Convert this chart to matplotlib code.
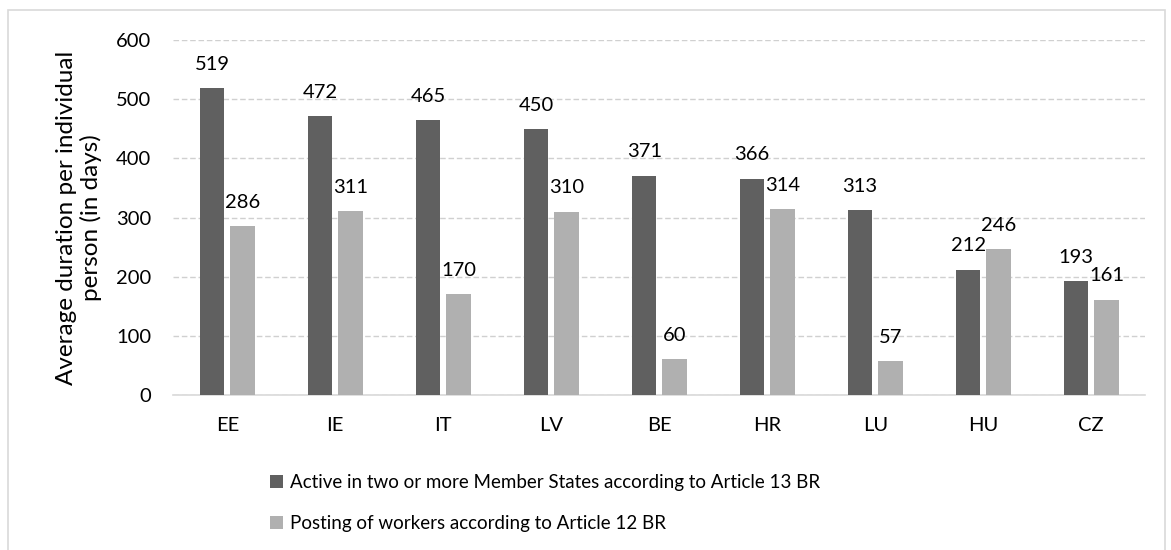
import numpy as np
import matplotlib.pyplot as plt
from matplotlib.patches import Rectangle

plt.rcParams['font.family'] = ['Lato', 'DejaVu Sans']

countries = ["EE", "IE", "IT", "LV", "BE", "HR", "LU", "HU", "CZ"]
article13 = [519, 472, 465, 450, 371, 366, 313, 212, 193]
article12 = [286, 311, 170, 310, 60, 314, 57, 246, 161]
labels = ["Active in two or more Member States according to Article 13 BR",
          "Posting of workers according to Article 12 BR"]
colors = ["#606060", "#b0b0b0"]

fig = plt.figure(figsize=(11.71, 5.5), dpi=100)
ax = fig.add_axes([0.148, 0.282, 0.83, 0.645])

x = np.arange(len(countries))
w = 0.225
for vals, off, col, lab in zip([article13, article12], [-0.14, 0.14], colors, labels):
    bars = ax.bar(x + off, vals, w, color=col, label=lab, zorder=3)
    for b, v in zip(bars, vals):
        ax.annotate(str(v), (b.get_x() + b.get_width() / 2, v), xytext=(0, 11),
                    textcoords='offset points', ha='center', va='bottom',
                    fontsize=14.5, color='#000000')

ax.set_xlim(-0.5, len(countries) - 0.5)
ax.set_ylim(0, 600)
ax.set_yticks(range(0, 601, 100))
ax.set_xticks(x)
ax.set_xticklabels(countries)
ax.tick_params(axis='both', length=0, labelsize=14.5, colors='#000000')
ax.tick_params(axis='x', pad=16)
ax.tick_params(axis='y', pad=16)
ax.grid(axis='y', color='#d0d0d0', linestyle=(0, (4, 2)), linewidth=1, zorder=0)
for s in ['left', 'right', 'top']:
    ax.spines[s].set_visible(False)
ax.spines['bottom'].set_color('#d9d9d9')
ax.spines['bottom'].set_linewidth(1.2)
ax.set_ylabel("Average duration per individual\nperson (in days)", fontsize=17.5,
              labelpad=10, linespacing=1.15)

fig.legend(loc='upper left', bbox_to_anchor=(0.224, 0.152), ncol=1, frameon=False,
           fontsize=13.5, handlelength=0.7, handleheight=0.7, handletextpad=0.4,
           labelspacing=1.3, borderaxespad=0)

fig.patches.append(Rectangle((0.007, -0.01), 0.988, 0.992, transform=fig.transFigure,
                             fill=False, edgecolor='#d9d9d9', linewidth=1.2))

fig.savefig("out.png", dpi=100)
